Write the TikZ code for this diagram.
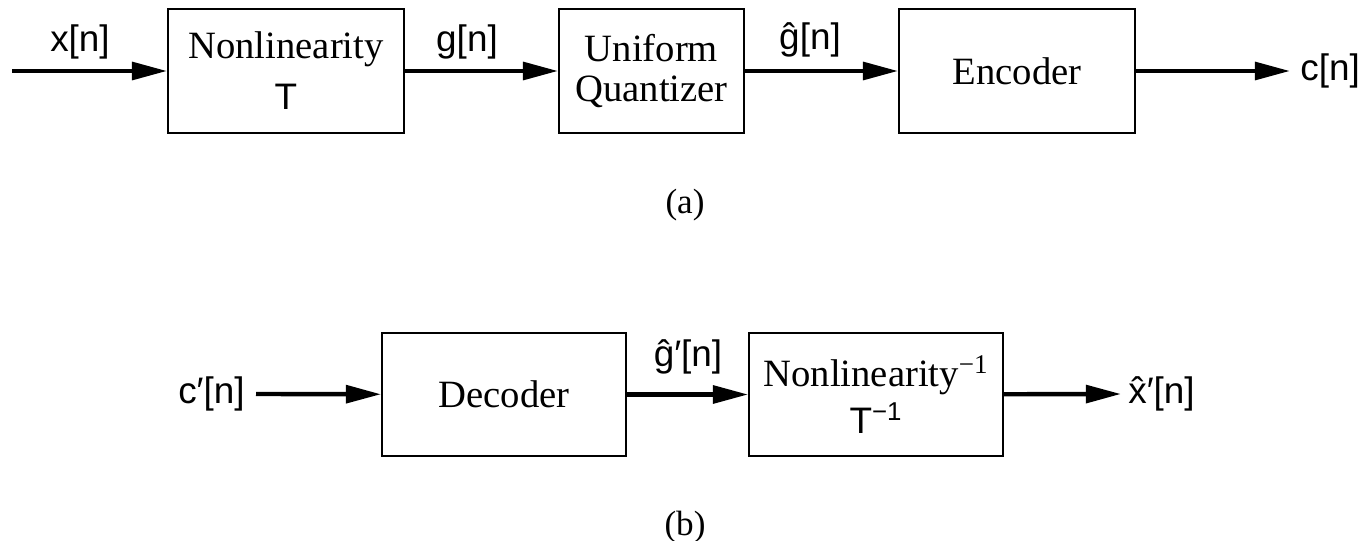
\documentclass[tikz,border=0pt]{standalone}
\usepackage{fontspec}
\setmainfont{Liberation Serif}
\setsansfont{Liberation Sans}
\usetikzlibrary{arrows.meta}
\begin{document}
\begin{tikzpicture}[x=0.02cm,y=-0.02cm,
  blk/.style={draw,line width=1.1pt,inner sep=0pt,align=center,
    minimum height=2.48cm,font=\fontsize{22}{23}\selectfont},
  lbl/.style={inner sep=0pt,font=\sffamily\fontsize{21}{24}\selectfont},
  subcap/.style={inner sep=0pt,font=\fontsize{20}{22}\selectfont},
  sig/.style={line width=2.5pt,-{Triangle[length=20pt,width=10pt]}}]
\useasboundingbox (0,0) rectangle (1370,541);
% (a)
\node[blk,minimum width=4.72cm] (nl) at (286,71) {Nonlinearity\\[6pt]{\sffamily\fontsize{21}{23}\selectfont T}};
\node[blk,minimum width=3.7cm] (uq) at (651.5,71) {Uniform\\Quantizer};
\node[blk,minimum width=4.72cm] (enc) at (1017,71) {Encoder};
\coordinate (in) at (12,71);
\coordinate (out) at (1290,71);
\draw[sig] (in) -- (nl);
\draw[sig] (nl) -- (uq);
\draw[sig] (uq) -- (enc);
\draw[sig] (enc) -- (out);
\node[lbl] (lx) at (80,42) {x[n]};
\node[lbl] (lg) at (467,42) {g[n]};
\node[lbl] (lgh) at (810,40) {\^{g}[n]};
\node[lbl,anchor=west] (lc) at (1300,71) {c[n]};
\node[subcap] (ca) at (685,205) {(a)};
% (b)
\node[blk,minimum width=4.88cm,minimum height=2.46cm] (dec) at (504,394.5) {Decoder};
\node[blk,minimum width=5.08cm,minimum height=2.46cm] (inl) at (876,394.5) {Nonlinearity\textsuperscript{−1}\\[4pt]{\sffamily\fontsize{21}{23}\selectfont T\textsuperscript{−1}}};
\coordinate (in2) at (256,394);
\coordinate (out2) at (1121,394);
\draw[sig] (in2) -- (dec);
\draw[sig] (dec) -- (inl);
\draw[sig] (inl) -- (out2);
\node[lbl,anchor=east] (lc2) at (245,394) {c′[n]};
\node[lbl] (lg2) at (688,357) {\^{g}′[n]};
\node[lbl,anchor=west] (lx2) at (1128,394) {\^{x}′[n]};
\node[subcap] (cb) at (685,527) {(b)};
\end{tikzpicture}
\end{document}
